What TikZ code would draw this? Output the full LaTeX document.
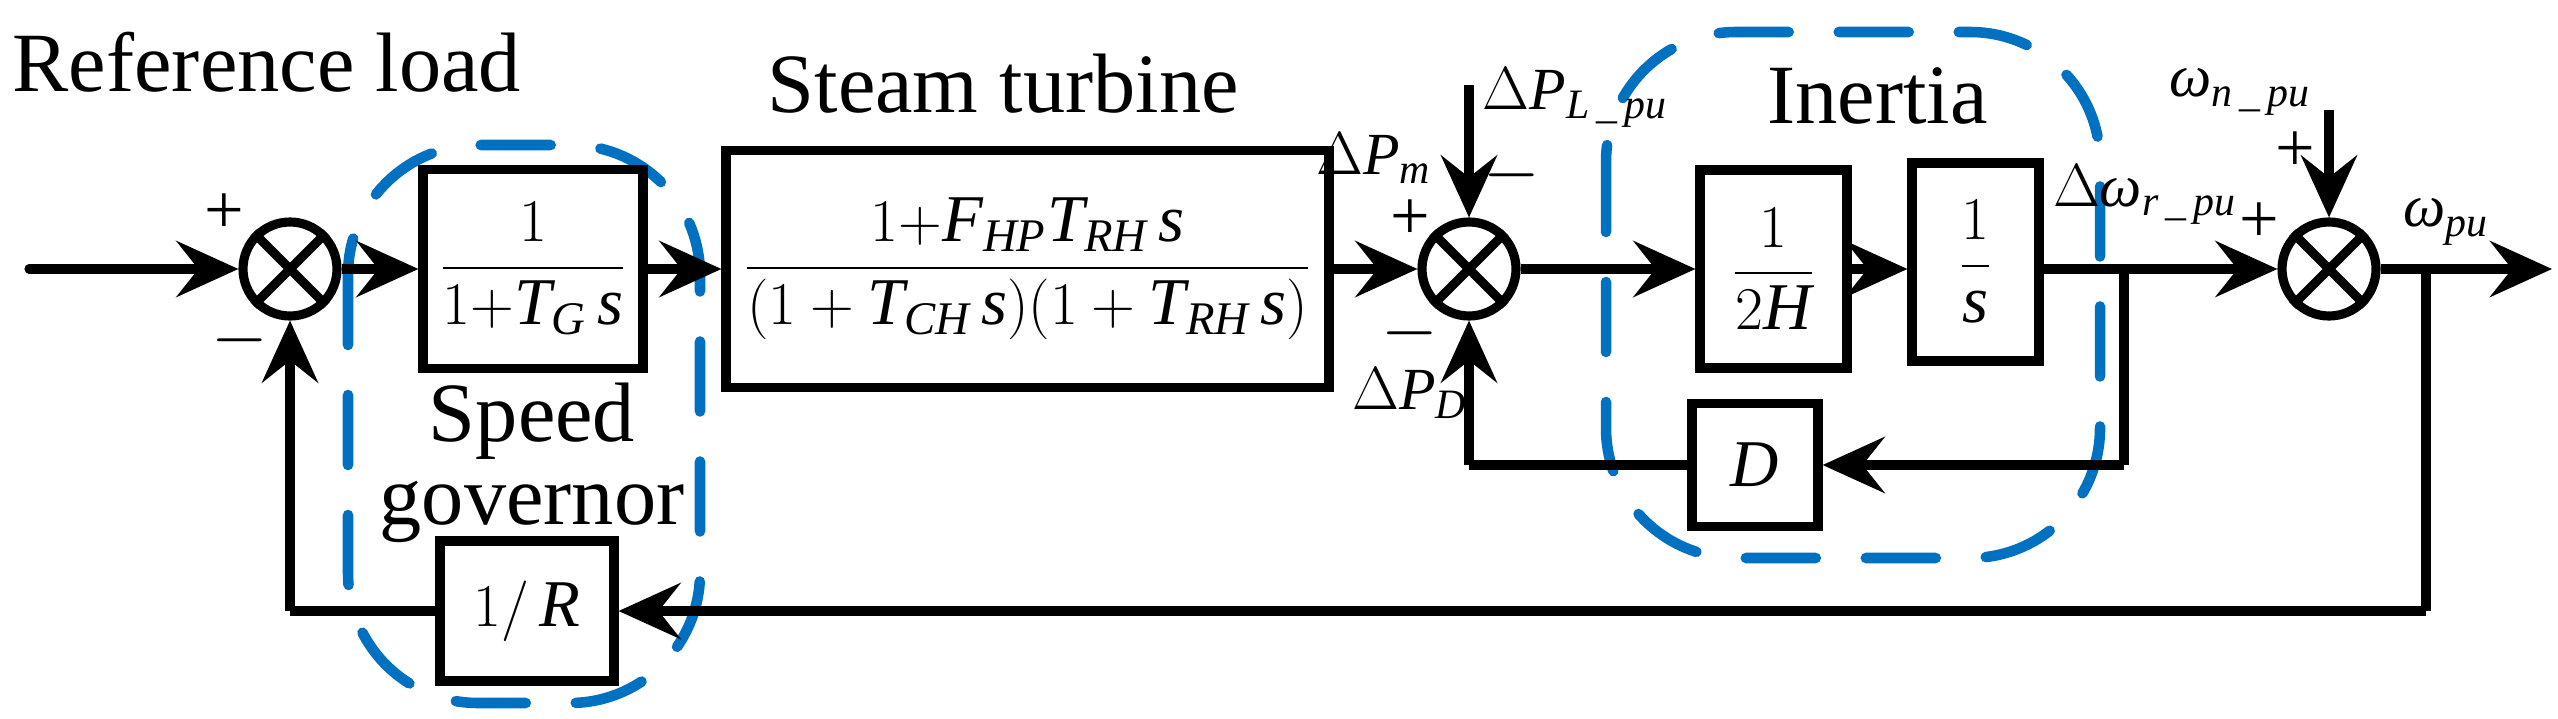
\documentclass[tikz,border=0pt]{standalone}
\usepackage{amsmath}
\usepackage{fontspec}
\setmainfont{Liberation Serif}
\usetikzlibrary{arrows.meta}
\newcommand\iv[1]{\textit{#1}}
\definecolor{dblue}{RGB}{0,112,192}
\begin{document}
\begin{tikzpicture}[x=1cm,y=1cm,
  lw/.style={line width=2.6pt},
  blk/.style={draw,lw,inner sep=0pt,font=\fontsize{19}{21}\selectfont},
  sum/.style={draw,lw,circle,minimum size=0.94cm,inner sep=0pt},
  arr/.style={lw,-{Stealth[length=0.62cm,width=0.56cm,inset=0.22cm]}},
  con/.style={lw,line join=round},
  grp/.style={draw=dblue,line width=3pt,line cap=round,dash pattern=on 0.7cm off 0.5cm,rounded corners=1.3cm},
  big/.style={font=\fontsize{24}{26}\selectfont},
  lab/.style={font=\fontsize{17}{19}\selectfont,inner sep=0pt},
  sg/.style={font=\fontsize{20}{22}\selectfont,inner sep=0pt}]
\useasboundingbox (0,0) rectangle (25.58,-7.19);
% labels
\node[big,anchor=base west,inner sep=0pt] (tref) at (0.12,-0.92) {Reference load};
\node[big,anchor=base west,inner sep=0pt] (tst) at (7.67,-1.13) {Steam turbine};
\node[big,anchor=base,inner sep=0pt] (tsp) at (5.32,-4.41) {Speed};
\node[big,anchor=base,inner sep=0pt] (tgo) at (5.32,-5.24) {governor};
\node[big,anchor=base west,inner sep=0pt] (tin) at (17.67,-1.24) {Inertia};
% groups
\draw[grp] (3.48,-1.45) rectangle (7.00,-7.03);
\draw[grp] (16.06,-0.32) rectangle (21.00,-5.58);
% nodes
\node[sum] (s1) at (2.90,-2.69) {};
\node[sum] (s2) at (14.69,-2.69) {};
\node[sum] (s3) at (23.29,-2.69) {};
\foreach \s in {s1,s2,s3}{\draw[lw] (\s.45)--(\s.225) (\s.135)--(\s.315);}
\node[blk,minimum width=2.2cm,minimum height=1.99cm] (gov) at (5.33,-2.69) {$\dfrac{1}{1{+}\iv{T}_{\iv{G}}\,\iv{s}}$};
\node[blk,minimum width=6.03cm,minimum height=2.37cm] (st) at (10.275,-2.69) {$\dfrac{1{+}\iv{F}_{\iv{HP}}\iv{T}_{\iv{RH}}\,\iv{s}}{(1+\iv{T}_{\iv{CH}}\,\iv{s})(1+\iv{T}_{\iv{RH}}\,\iv{s})}$};
\node[blk,minimum width=1.47cm,minimum height=1.98cm] (h2) at (17.735,-2.69) {$\dfrac{1}{2\iv{H}}$};
\node[blk,minimum width=1.27cm,minimum height=1.98cm] (si) at (19.755,-2.62) {$\dfrac{1}{\iv{s}}$};
\node[blk,minimum width=1.26cm,minimum height=1.23cm] (D) at (17.55,-4.65) {$\iv{D}$};
\node[blk,minimum width=1.74cm,minimum height=1.40cm] (R) at (5.27,-6.11) {$1/\,\iv{R}$};
% coordinates
\coordinate (in) at (0.29,-2.69);
\coordinate (b1) at (21.24,-2.69);
\coordinate (b2) at (24.26,-2.69);
\coordinate (out) at (25.52,-2.69);
\coordinate (pl) at (14.69,-0.85);
\coordinate (wn) at (23.29,-1.10);
\coordinate (c1) at (21.24,-4.65);
\coordinate (c2) at (14.69,-4.65);
\coordinate (c3) at (24.26,-6.11);
\coordinate (c4) at (2.90,-6.11);
% connectors
\draw[arr,line cap=round] (in) -- (s1);
\draw[arr] (s1) -- (gov);
\draw[arr] (gov) -- (st);
\draw[arr] (st) -- (s2);
\draw[arr] (s2) -- (h2);
\draw[arr] (h2) -- (h2.east -| si.west);
\draw[arr] (si.east |- s3) -- (s3);
\draw[arr] (s3) -- (out);
\draw[arr] (pl) -- (s2);
\draw[arr] (wn) -- (s3);
\draw[con] (b1) -- (c1);
\draw[arr] (c1) -- (D);
\draw[con] (D) -- (c2);
\draw[arr] (c2) -- (s2);
\draw[con] (b2) -- (c3);
\draw[arr] (c3) -- (R);
\draw[con] (R) -- (c4);
\draw[arr] (c4) -- (s1);
% signs
\node[sg] (p1) at (2.24,-2.14) {+};
\node[sg] (m1) at (2.40,-3.40) {$-$};
\node[sg] (p2) at (14.10,-2.20) {+};
\node[sg] (m2) at (15.12,-1.75) {$-$};
\node[sg] (m3) at (14.10,-3.33) {$-$};
\node[sg] (p3) at (22.59,-2.23) {+};
\node[sg] (p4) at (22.95,-1.52) {+};
% signal labels
\node[lab,anchor=west] (lpl) at (14.82,-0.98) {$\Delta\iv{P}_{\iv{L}\,\_\,\iv{pu}}$};
\node[lab] (lpm) at (13.74,-1.58) {$\Delta\iv{P}_{\iv{m}}$};
\node[lab] (lpd) at (14.10,-3.93) {$\Delta\iv{P}_{\iv{D}}$};
\node[lab] (lwr) at (21.45,-1.95) {$\Delta\iv{ω}_{\iv{r}\,\_\,\iv{pu}}$};
\node[lab] (lwn) at (22.40,-0.92) {$\iv{ω}_{\iv{n}\,\_\,\iv{pu}}$};
\node[lab] (lwp) at (24.46,-2.22) {$\iv{ω}_{\iv{pu}}$};
\end{tikzpicture}
\end{document}
